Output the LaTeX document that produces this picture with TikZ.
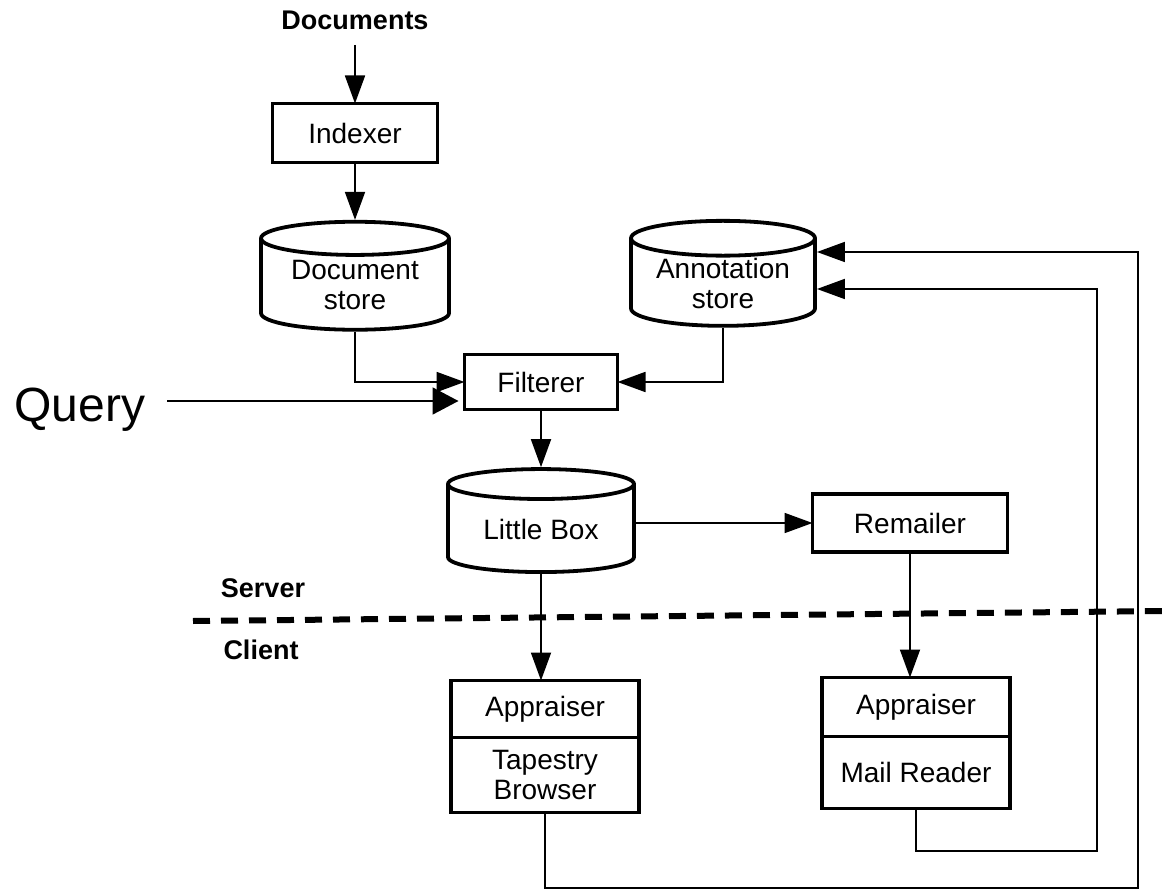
\documentclass[tikz,border=0pt]{standalone}
\usepackage{fontspec}
\setmainfont{Liberation Sans}
\usetikzlibrary{positioning,shapes.geometric,arrows.meta}

\begin{document}
\begin{tikzpicture}[
    x=1pt, y=-1pt,
    lbl/.style={font=\fontsize{28}{30}\selectfont},
    tag/.style={font=\fontsize{27}{30}\selectfont\bfseries},
    box/.style={rectangle,draw,line width=3.8pt,lbl,align=center,inner sep=0pt,outer sep=0pt},
    store/.style={cylinder,shape border rotate=90,draw,line width=3.8pt,aspect=0.26,
                  lbl,align=center,inner sep=0pt},
    conn/.style={line width=1.8pt,-{Triangle[length=28pt,width=20pt]}},
    sepline/.style={line width=6pt,dash pattern=on 17pt off 11pt}
  ]
  \useasboundingbox (0,0) rectangle (1167,890);

  % server side
  \node(doc) [tag] at (355,20) {Documents};
  \node(idx) [box,minimum width=165pt,minimum height=59pt] at (355,133) {Indexer};
  \node(dstore) [store,minimum width=188pt,minimum height=108pt] at (355,285) {Document\\store};
  \node(astore) [store,minimum width=184pt,minimum height=105pt] at (723,283) {Annotation\\store};
  \node(filt) [box,minimum width=153pt,minimum height=55pt] at (541,382) {Filterer};
  \node(query) [font=\fontsize{48}{50}\selectfont] at (80,410) {Query};
  \coordinate (qin) at (167,401);
  \node(lbox) [store,minimum width=186pt,minimum height=103pt] at (541,529) {Little Box};
  \node(rmail) [box,minimum width=195pt,minimum height=58pt] at (910,523) {Remailer};

  % server / client border
  \draw[sepline] (193,621) -- (1167,611);
  \node(srv) [tag] at (263,588) {Server};
  \node(cli) [tag] at (261,650) {Client};

  % client side
  \node(appr1) [box,minimum width=188pt,minimum height=57pt] at (545,709) {Appraiser};
  \node(tapb) [box,minimum width=188pt,minimum height=75pt,below=0pt of appr1] {Tapestry\\Browser};
  \node(appr2) [box,minimum width=188pt,minimum height=59pt] at (916,707) {Appraiser};
  \node(mread) [box,minimum width=188pt,minimum height=72pt,below=0pt of appr2] {Mail Reader};

  \coordinate (fb1) at (1097,851);
  \coordinate (fb2) at (1138,888);

  \draw[conn] ([yshift=-12pt]doc.south) -- (idx.north);
  \draw[conn] (idx.south) -- (dstore.north);
  \draw[conn] (dstore.south) |- (filt.west);
  \draw[conn] (astore.south) |- (filt.east);
  \draw[line width=1.8pt,-{Triangle[length=26pt,width=27pt]},shorten >=6pt] (qin) -- (filt.west |- qin);
  \draw[conn] (filt.south) -- (lbox.north);
  \draw[conn] (lbox.east |- rmail.west) -- (rmail.west);
  \draw[conn] (lbox.south) -- (lbox.south |- appr1.north);
  \draw[conn] (rmail.south) -- (rmail.south |- appr2.north);

  % feedback to the annotation store
  \draw[conn] (mread.south) |- (fb1) |- ([yshift=-6pt]astore.east);
  \draw[conn] (tapb.south) |- (fb2) |- ([yshift=31pt]astore.east);

\end{tikzpicture}
\end{document}
